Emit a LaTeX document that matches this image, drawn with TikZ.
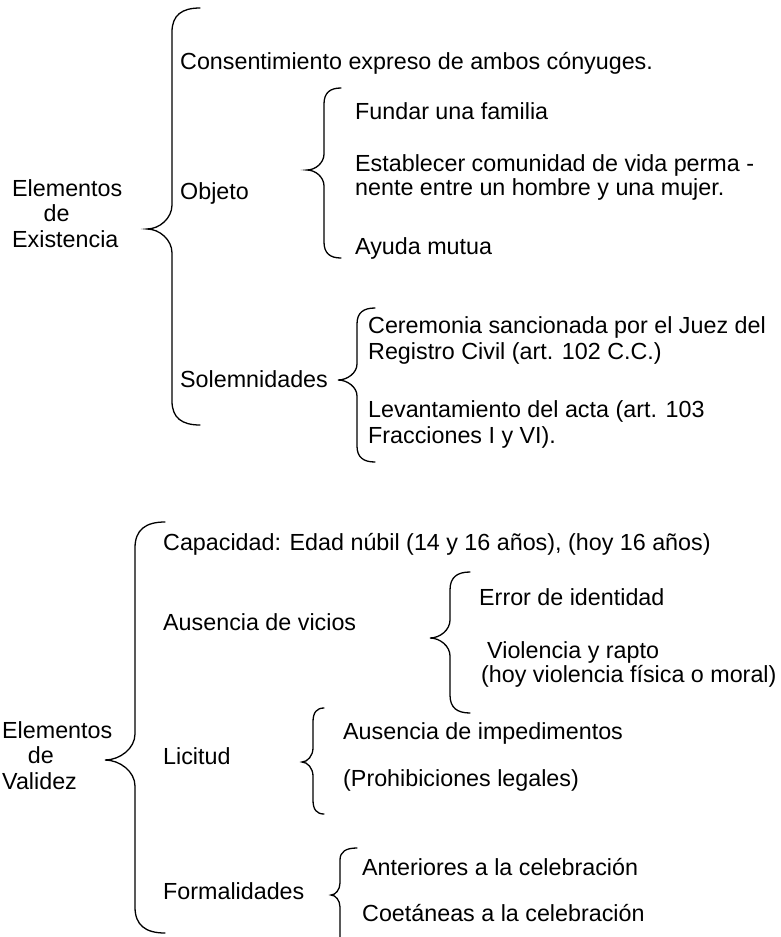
\documentclass[tikz,border=0pt]{standalone}
\usepackage{fontspec}
\setmainfont{Liberation Sans}
\newcommand\curlyb[7]{%
 \pgfmathsetmacro\cbHX{#1+#6}%
 \pgfmathsetmacro\cbHA{#1+0.35*#6}%
 \pgfmathsetmacro\cbTA{#2+#7}%
 \pgfmathsetmacro\cbTB{#2+0.3*#7}%
 \pgfmathsetmacro\cbMA{#3-#7}%
 \pgfmathsetmacro\cbMB{#3-0.45*#7}%
 \pgfmathsetmacro\cbMC{#3+#7}%
 \pgfmathsetmacro\cbMD{#3+0.45*#7}%
 \pgfmathsetmacro\cbMX{(#1+#5)/2}%
 \pgfmathsetmacro\cbBA{#4-#7}%
 \pgfmathsetmacro\cbBB{#4-0.3*#7}%
 \draw[bracestyle] (\cbHX,#2) .. controls (\cbHA,#2) and (#1,\cbTB) .. (#1,\cbTA) -- (#1,\cbMA) .. controls (#1,\cbMB) and (\cbMX,#3) .. (#5,#3) .. controls (\cbMX,#3) and (#1,\cbMD) .. (#1,\cbMC) -- (#1,\cbBA) .. controls (#1,\cbBB) and (\cbHA,#4) .. (\cbHX,#4);%
}
\begin{document}
\begin{tikzpicture}[x=1pt,y=-1pt,
  bracestyle/.style={line width=1.3pt,line cap=round},
  txt/.style={anchor=base west,inner sep=0pt,align=left,font=\fontsize{23.3}{23.5}\selectfont},
  wide/.style={font=\fontsize{23.3}{25.5}\selectfont}]
\useasboundingbox[fill=white] (0,0) rectangle (781,937);
% ---------- Elementos de Existencia ----------
\node[txt,wide] (ee) at (12,247) {Elementos\\\hspace*{1.35em}de\\Existencia};
\curlyb{172}{8}{229}{425}{147}{28}{24}
\node[txt] (cons) at (180,69) {Consentimiento expreso de ambos cónyuges.};
\node[txt] (obj) at (180,199) {Objeto};
\node[txt] (sol) at (180,387) {Solemnidades};
\curlyb{324}{88}{170}{258}{307}{17}{16}
\node[txt] (fun) at (355,119) {Fundar una familia};
\node[txt] (est) at (355,195) {Establecer comunidad de vida perma -\\nente entre un hombre y una mujer.};
\node[txt] (ayu) at (355,254) {Ayuda mutua};
\curlyb{357}{308}{380}{462}{338}{18}{16}
\node[txt,wide] (cer) at (368,359) {Ceremonia sancionada por el Juez del\\Registro Civil (art. 102 C.C.)};
\node[txt,wide] (lev) at (368,443) {Levantamiento del acta (art. 103\\Fracciones I y VI).};
% ---------- Elementos de Validez ----------
\node[txt,wide] (ev) at (2,789) {Elementos\\\hspace*{1.1em}de\\Validez};
\curlyb{135}{522}{760}{933}{105}{30}{26}
\node[txt] (cap) at (163,550) {Capacidad: Edad núbil (14 y 16 años), (hoy 16 años)};
\node[txt] (aus) at (163,630) {Ausencia de vicios};
\node[txt] (lic) at (163,764) {Licitud};
\node[txt] (for) at (163,899) {Formalidades};
\curlyb{450}{572}{638}{713}{430}{20}{18}
\node[txt] (err) at (479,605) {Error de identidad};
\node[txt] (vio) at (481,682) {\hspace*{6pt}Violencia y rapto\\(hoy violencia física o moral)};
\curlyb{313}{708}{762}{814}{302}{11}{14}
\node[txt] (imp) at (343,739) {Ausencia de impedimentos};
\node[txt] (pro) at (343,786) {(Prohibiciones legales)};
\curlyb{340}{848}{895}{975}{331}{17}{12}
\node[txt] (ant) at (362,875) {Anteriores a la celebración};
\node[txt] (coe) at (362,921) {Coetáneas a la celebración};
\end{tikzpicture}
\end{document}
